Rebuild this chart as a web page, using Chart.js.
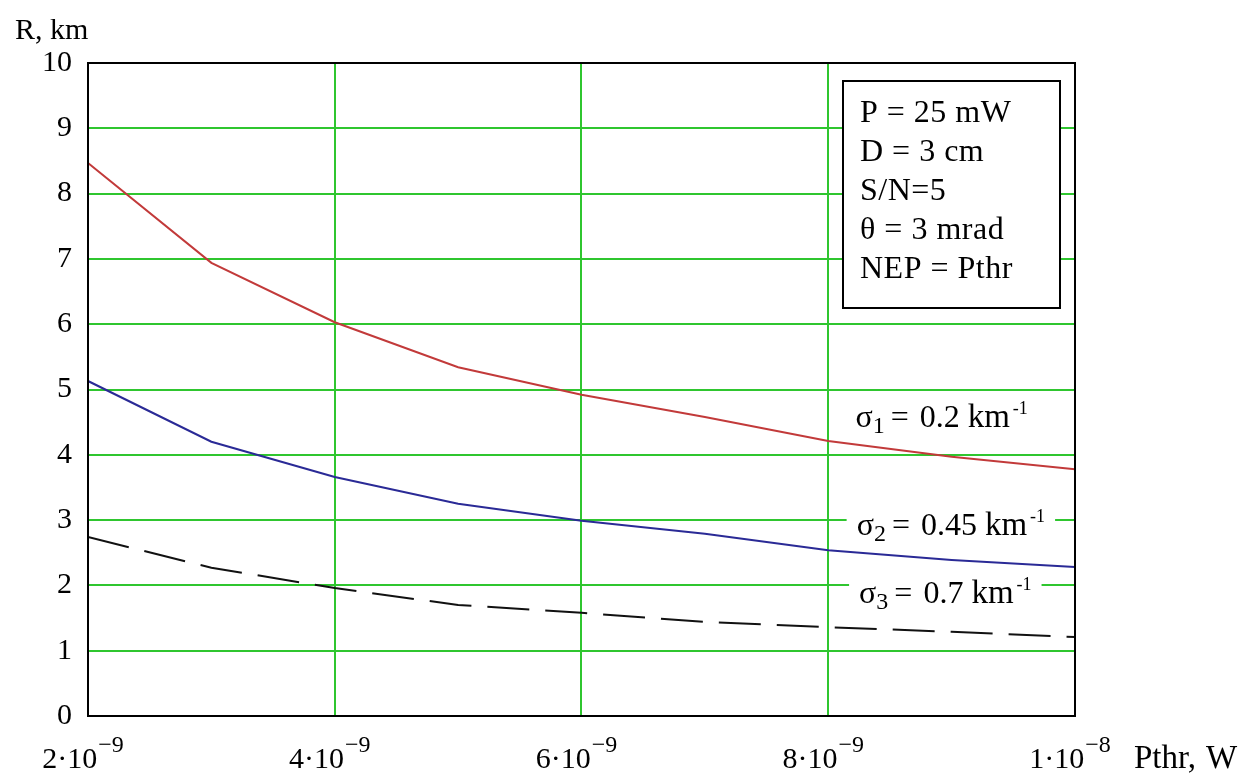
<!DOCTYPE html>
<html>
<head>
<meta charset="utf-8">
<title>R vs Pthr</title>
<script src="https://cdn.jsdelivr.net/npm/chart.js@4.4.1/dist/chart.umd.min.js"></script>
<style>
  html, body { margin: 0; padding: 0; background: #ffffff; }
  canvas { display: block; }
</style>
</head>
<body>
<canvas id="chart" width="1250" height="779"></canvas>
<script>
// Threshold power Pthr, W
const pthr = [2e-9, 3e-9, 4e-9, 5e-9, 6e-9, 7e-9, 8e-9, 9e-9, 1e-8];
// Range R, km for the three extinction coefficients
const rSigma1 = [8.47, 6.94, 6.03, 5.34, 4.92, 4.58, 4.21, 3.97, 3.78];
const rSigma2 = [5.13, 4.20, 3.66, 3.25, 2.99, 2.79, 2.54, 2.39, 2.28];
const rSigma3 = [2.74, 2.27, 1.96, 1.70, 1.58, 1.44, 1.36, 1.29, 1.21];

// Axis ticks
const xTickValues = [2e-9, 4e-9, 6e-9, 8e-9, 1e-8];
const xTickMantissas = ['2', '4', '6', '8', '1'];
const xTickExponents = ['−9', '−9', '−9', '−9', '−8'];
const yTickValues = [0, 1, 2, 3, 4, 5, 6, 7, 8, 9, 10];

// Texts
const xAxisTitle = ['Pthr,', 'W'];
const yAxisTitle = 'R, km';
const paramLines = ['P = 25 mW', 'D = 3 cm', 'S/N=5', 'θ = 3 mrad', 'NEP = Pthr'];
const curveSubscripts = ['1', '2', '3'];
const curveSigmaValues = ['0.2', '0.45', '0.7'];
// anchor of each curve label (data coordinates: Pthr, R)
const curveLabelX = [8.22e-9, 8.23e-9, 8.25e-9];
const curveLabelY = [4.43, 2.77, 1.73];

const FONT = '"Liberation Serif", "Times New Roman", serif';
const GRID_GREEN = '#2fc62f';

function font(size) { return size + 'px ' + FONT; }

// draw a run of text pieces (with sub/superscripts), returns total width
function drawRuns(ctx, runs, x, y, measureOnly) {
  let cx = x;
  for (const r of runs) {
    ctx.font = font(r.size);
    if (!measureOnly) ctx.fillText(r.text, cx, y + (r.dy || 0));
    cx += ctx.measureText(r.text).width + (r.gap || 0);
  }
  return cx - x;
}

const annotations = {
  id: 'annotations',
  beforeDatasetsDraw(chart) {
    const { ctx, scales } = chart;
    const xs = scales.x, ys = scales.y;
    ctx.save();
    ctx.textBaseline = 'alphabetic';
    ctx.textAlign = 'left';

    // parameter box
    const bx = 843, by = 81, bw = 217, bh = 227;
    ctx.fillStyle = '#ffffff';
    ctx.fillRect(bx, by, bw, bh);
    ctx.strokeStyle = '#000000';
    ctx.lineWidth = 2;
    ctx.strokeRect(bx, by, bw, bh);
    ctx.fillStyle = '#000000';
    ctx.font = font(32);
    ctx.letterSpacing = '0.5px';
    paramLines.forEach((t, i) => ctx.fillText(t, bx + 17, by + 41 + i * 39));
    ctx.letterSpacing = '0px';

    // curve labels
    curveSubscripts.forEach((sub, i) => {
      const px = xs.getPixelForValue(curveLabelX[i]);
      const py = ys.getPixelForValue(curveLabelY[i]);
      const runs = [
        { text: 'σ', size: 32 },
        { text: sub, size: 24, dy: 6, gap: 6 },
        { text: '=', size: 32, gap: 11 },
        { text: curveSigmaValues[i], size: 32, gap: 8 },
        { text: 'km', size: 33, gap: 3 },
        { text: '-1', size: 18, dy: -13 }
      ];
      const w = drawRuns(ctx, runs, px, py, true);
      ctx.fillStyle = '#ffffff';
      ctx.fillRect(px - 10, py - 34, w + 20, 44);
      ctx.fillStyle = '#000000';
      drawRuns(ctx, runs, px, py, false);
    });
    ctx.restore();
  },
  afterDraw(chart) {
    const { ctx, chartArea: a, scales } = chart;
    ctx.save();
    // frame
    ctx.strokeStyle = '#000000';
    ctx.lineWidth = 2;
    ctx.strokeRect(a.left, a.top, a.right - a.left, a.bottom - a.top);

    // x tick labels with exponents
    ctx.fillStyle = '#000000';
    ctx.textBaseline = 'alphabetic';
    ctx.textAlign = 'left';
    const base = a.bottom + 52;
    xTickValues.forEach((v, i) => {
      const px = scales.x.getPixelForValue(v);
      const runs = [
        { text: xTickMantissas[i] + '·10', size: 30, gap: 1 },
        { text: xTickExponents[i], size: 24, dy: -16 }
      ];
      const w = drawRuns(ctx, runs, 0, 0, true);
      drawRuns(ctx, runs, px - w / 2 - 5, base, false);
    });

    // axis titles
    drawRuns(ctx, [{ text: xAxisTitle[0], size: 33, gap: 10 }, { text: xAxisTitle[1], size: 33 }], 1134, base, false);
    ctx.font = font(30);
    ctx.fillText(yAxisTitle, 15, 39);
    ctx.restore();
  }
};

const toPoints = ys => pthr.map((x, i) => ({ x, y: ys[i] }));

new Chart(document.getElementById('chart'), {
  type: 'line',
  data: {
    datasets: [
      { label: 'σ1 = 0.2 km-1', data: toPoints(rSigma1), borderColor: '#c23a3a', borderWidth: 2, pointRadius: 0, tension: 0 },
      { label: 'σ2 = 0.45 km-1', data: toPoints(rSigma2), borderColor: '#2a2a96', borderWidth: 2, pointRadius: 0, tension: 0 },
      { label: 'σ3 = 0.7 km-1', data: toPoints(rSigma3), borderColor: '#111111', borderWidth: 2, pointRadius: 0, tension: 0, borderDash: [42, 16] }
    ]
  },
  options: {
    responsive: false,
    animation: false,
    events: [],
    layout: { padding: { top: 63, right: 175, left: 0, bottom: 0 } },
    plugins: { legend: { display: false }, tooltip: { enabled: false } },
    scales: {
      x: {
        type: 'linear',
        min: 2e-9,
        max: 1e-8,
        afterBuildTicks: s => { s.ticks = xTickValues.map(v => ({ value: v })); },
        afterFit: s => { s.height = 63; },
        ticks: { display: false },
        grid: { color: GRID_GREEN, lineWidth: 2, drawTicks: false },
        border: { display: true, color: '#000000', width: 2 }
      },
      y: {
        type: 'linear',
        min: 0,
        max: 10,
        afterBuildTicks: s => { s.ticks = yTickValues.map(v => ({ value: v })); },
        afterFit: s => { s.width = 88; },
        ticks: { color: '#000000', font: { family: FONT, size: 30 }, padding: 16 },
        grid: { color: GRID_GREEN, lineWidth: 2, drawTicks: false },
        border: { display: true, color: '#000000', width: 2 }
      }
    }
  },
  plugins: [annotations]
});
</script>
</body>
</html>
